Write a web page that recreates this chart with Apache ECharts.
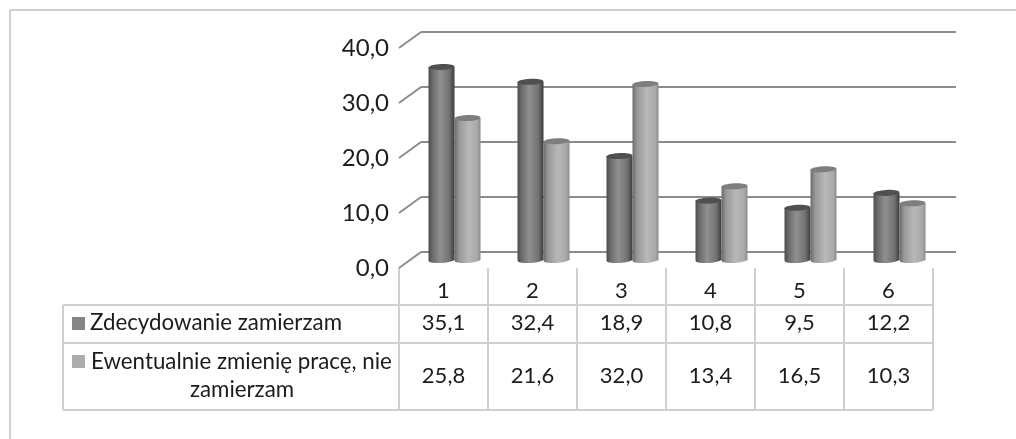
<!DOCTYPE html>
<html><head><meta charset="utf-8">
<style>html,body{margin:0;padding:0;background:#fff}#c{width:1016px;height:439px}</style>
<script src="https://cdn.jsdelivr.net/npm/echarts@6/dist/echarts.min.js"></script>
</head><body><div id="c"></div>
<script>
const categories = ['1','2','3','4','5','6'];
const seriesA = [35.1,32.4,18.9,10.8,9.5,12.2];
const seriesB = [25.8,21.6,32.0,13.4,16.5,10.3];
const nameA = 'Zdecydowanie zamierzam';
const nameB = ['Ewentualnie zmienię pracę, nie','zamierzam'];
const ticks = [0,10,20,30,40];
const FONT = 'Lato';
const TEXT = '#1c1c1c', LINE = '#cfcfcf', GRIDC = '#8c8c8c';
const fmt = v => v.toFixed(1).replace('.',',');

const chart = echarts.init(document.getElementById('c'), null, {renderer:'canvas'});

function cyl(offset, stops, topColor){
  return function(params, api){
    const c = api.coord([api.value(0), api.value(1)]);
    const base = api.coord([api.value(0), 0]);
    const band = api.size([1,0])[0];
    const w = band*26/89, cx = c[0] + offset*w/2, l = cx - w/2;
    const fill = new echarts.graphic.LinearGradient(0,0,1,0,stops);
    const tilt = 0.05;
    return {type:'group',children:[
      {type:'ellipse',shape:{cx:cx,cy:base[1],rx:w/2,ry:3},rotation:tilt,originX:cx,originY:base[1],style:{fill:fill}},
      {type:'rect',shape:{x:l,y:c[1],width:w,height:base[1]-c[1]},style:{fill:fill}},
      {type:'ellipse',shape:{cx:cx,cy:c[1],rx:w/2,ry:3},rotation:tilt,originX:cx,originY:c[1],style:{fill:topColor}}
    ]};
  };
}
const stopsA=[{offset:0,color:'#4c4c4c'},{offset:.15,color:'#6a6a6a'},{offset:.45,color:'#909090'},{offset:.8,color:'#727272'},{offset:1,color:'#3c3c3c'}];
const stopsB=[{offset:0,color:'#6a6a6a'},{offset:.18,color:'#989898'},{offset:.55,color:'#b8b8b8'},{offset:.88,color:'#a8a8a8'},{offset:1,color:'#8a8a8a'}];

// table
const colX = i => 399 + 89*i;
const rowY = [305,343,410];
const g = [];
const ln=(x1,y1,x2,y2,c,w)=>g.push({type:'line',shape:{x1,y1,x2,y2},style:{stroke:c||LINE,lineWidth:w||2}});
const tx=(t,x,y,a,s)=>g.push({type:'text',x,y,style:{text:t,fill:TEXT,font:(s||22)+'px '+FONT,align:a||'center',verticalAlign:'middle'}});
ln(10,10,1016,10); ln(10,10,10,439);
rowY.forEach(y=>ln(63,y,933,y));
ln(63,305,63,410);
categories.forEach((_,i)=>ln(colX(i),268,colX(i),410));
ln(colX(6),268,colX(6),410);
categories.forEach((_,i)=>{
  tx(fmt(seriesA[i]),colX(i)+44.5,323);
  tx(fmt(seriesB[i]),colX(i)+44.5,376);
});
g.push({type:'rect',shape:{x:72,y:317,width:13,height:13},style:{fill:'#858585'}});
g.push({type:'rect',shape:{x:72,y:355,width:13,height:13},style:{fill:'#adadad'}});
tx(nameA,90,323,'left',22.3);
tx(nameB[0],91,362,'left',22.3);
tx(nameB[1],242,390,'center',22.3);

const hiddenCat = (gi)=>({type:'category',gridIndex:gi,data:categories,show:false});
chart.setOption({
  animation:false,
  backgroundColor:'#fff',
  grid:[
    {left:399,top:48,width:534,height:220},
    {left:421,top:32,width:535,height:220},
    {left:410,top:40,width:534,height:220}
  ],
  xAxis:[
    {type:'category',gridIndex:0,data:categories,axisLine:{show:false},axisTick:{show:false},
     axisLabel:{margin:12,color:TEXT,fontFamily:FONT,fontSize:22}},
    hiddenCat(1),hiddenCat(2)
  ],
  yAxis:[
    {type:'value',gridIndex:0,min:0,max:40,interval:10,splitLine:{show:false},axisLine:{show:false},axisTick:{show:false},
     axisLabel:{margin:10,color:TEXT,fontFamily:FONT,fontSize:24,formatter:fmt}},
    {type:'value',gridIndex:1,min:0,max:40,interval:10,axisLine:{show:false},axisTick:{show:false},axisLabel:{show:false},
     splitLine:{show:true,lineStyle:{color:GRIDC,width:2}}},
    {type:'value',gridIndex:2,min:0,max:40,interval:10,show:false,splitLine:{show:false}}
  ],
  series:[
    {type:'custom',name:'walls',xAxisIndex:0,yAxisIndex:0,data:ticks.map(t=>[0,t]),clip:false,z:2,silent:true,
     renderItem:(p,api)=>{
       const c=api.coord([0,api.value(1)]), x=c[0]-api.size([1,0])[0]/2;
       return {type:'line',shape:{x1:x,y1:c[1],x2:x+22,y2:c[1]-16},style:{stroke:GRIDC,lineWidth:2}};
     }},
    {type:'custom',name:nameA,xAxisIndex:2,yAxisIndex:2,data:seriesA.map((v,i)=>[i,v]),clip:false,z:3,
     encode:{x:0,y:1},renderItem:cyl(-1,stopsA,'#505050')},
    {type:'custom',name:nameB[0]+' '+nameB[1],xAxisIndex:2,yAxisIndex:2,data:seriesB.map((v,i)=>[i,v]),clip:false,z:4,
     encode:{x:0,y:1},renderItem:cyl(1,stopsB,'#7e7e7e')}
  ],
  graphic:{elements:g}
});
</script></body></html>
